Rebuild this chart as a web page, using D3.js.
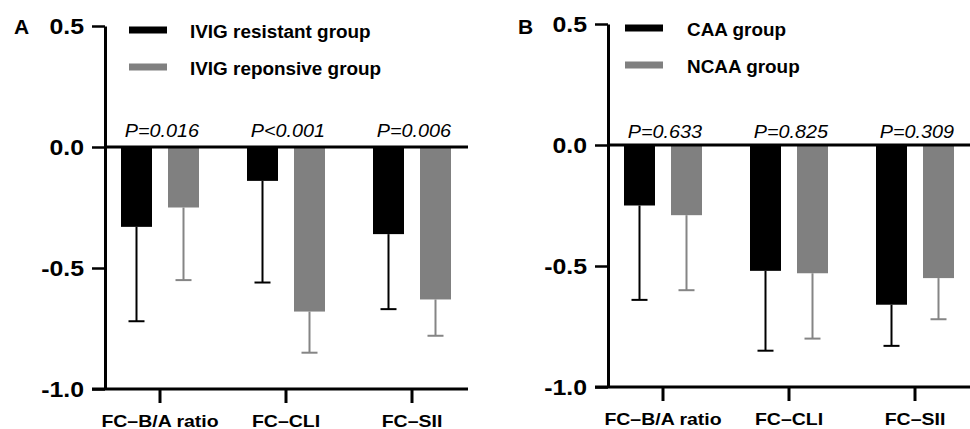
<!DOCTYPE html>
<html>
<head>
<meta charset="utf-8">
<script src="https://cdn.jsdelivr.net/npm/d3@7"></script>
<style>
  html, body { margin: 0; padding: 0; background: #fff; }
  svg { display: block; }
  text { font-family: "Liberation Sans", Arial, sans-serif; }
</style>
</head>
<body>
<svg id="chart" width="970" height="429"></svg>
<script>
// ---------- DATA ----------
const categories = ["FC\u2013B/A ratio", "FC\u2013CLI", "FC\u2013SII"];
const yTicks = [-1.0, -0.5, 0.0, 0.5];

// Panel A
const seriesA = ["IVIG resistant group", "IVIG reponsive group"];
const meanA_resistant = [-0.33, -0.14, -0.36];
const sdA_resistant   = [0.39, 0.42, 0.31];
const meanA_responsive = [-0.25, -0.68, -0.63];
const sdA_responsive   = [0.30, 0.17, 0.15];
const pA = ["P=0.016", "P<0.001", "P=0.006"];

// Panel B
const seriesB = ["CAA group", "NCAA group"];
const meanB_caa  = [-0.25, -0.52, -0.66];
const sdB_caa    = [0.39, 0.33, 0.17];
const meanB_ncaa = [-0.29, -0.53, -0.55];
const sdB_ncaa   = [0.31, 0.27, 0.17];
const pB = ["P=0.633", "P=0.825", "P=0.309"];

// ---------- STYLE / LAYOUT ----------
const colors = ["#000000", "#808080"];
const errColors = ["#000000", "#858585"];

const panels = [
  { letter: "A", letterX: 14, letterY: 34,
    axisX: 105, xRange: [97, 475], xEnd: 468, yRange: [389, 26],
    legendX: 129, legendY: [30, 67], legendTextX: 190, legendTextDy: 7.5,
    pOffset: 10.5,
    series: seriesA,
    means: [meanA_resistant, meanA_responsive],
    sds: [sdA_resistant, sdA_responsive],
    pvals: pA },
  { letter: "B", letterX: 518, letterY: 33.5,
    axisX: 608, xRange: [600, 978], xEnd: 970, yRange: [387, 24],
    legendX: 625, legendY: [28, 65], legendTextX: 687, legendTextDy: 7.5,
    pOffset: 7,
    series: seriesB,
    means: [meanB_caa, meanB_ncaa],
    sds: [sdB_caa, sdB_ncaa],
    pvals: pB }
];

const barWidth = 31, capWidth = 16;

function stretch(sel, f) {
  sel.each(function() {
    const len = this.getComputedTextLength();
    d3.select(this).attr("textLength", len * f).attr("lengthAdjust", "spacingAndGlyphs");
  });
}

const svg = d3.select("#chart");

panels.forEach(p => {
  const g = svg.append("g");
  const y = d3.scaleLinear().domain([-1, 0.5]).range(p.yRange);
  const x = d3.scaleBand().domain(categories).range(p.xRange).padding(0);
  const xs = d3.scaleBand().domain(p.series).range([-47, 47]).padding(0);

  // bars
  p.series.forEach((s, si) => {
    const rows = categories.map((c, i) => ({ c, m: p.means[si][i], sd: p.sds[si][i] }));
    const cx = d => x(d.c) + x.bandwidth() / 2 + xs(s) + xs.bandwidth() / 2;
    // error bars
    const eg = g.append("g").attr("stroke", errColors[si]).attr("stroke-width", 2).attr("fill", "none");
    eg.selectAll("line.v").data(rows).join("line").attr("class", "v")
      .attr("x1", cx).attr("x2", cx)
      .attr("y1", d => y(d.m)).attr("y2", d => y(d.m - d.sd));
    eg.selectAll("line.c").data(rows).join("line").attr("class", "c")
      .attr("x1", d => cx(d) - capWidth / 2).attr("x2", d => cx(d) + capWidth / 2)
      .attr("y1", d => y(d.m - d.sd)).attr("y2", d => y(d.m - d.sd));
    g.append("g").selectAll("rect").data(rows).join("rect")
      .attr("x", d => cx(d) - barWidth / 2)
      .attr("width", barWidth)
      .attr("y", y(0))
      .attr("height", d => y(d.m) - y(0))
      .attr("fill", colors[si]);
  });

  // zero line
  g.append("line")
    .attr("x1", p.axisX).attr("x2", p.xEnd)
    .attr("y1", y(0)).attr("y2", y(0))
    .attr("stroke", "#000").attr("stroke-width", 3);

  // y axis
  const ya = g.append("g").attr("transform", `translate(${p.axisX},0)`)
    .call(d3.axisLeft(y).tickValues(yTicks).tickFormat(d => d.toFixed(1)).tickSize(13).tickPadding(8).tickSizeOuter(0));
  ya.select(".domain").attr("stroke-width", 3);
  ya.selectAll(".tick line").attr("stroke-width", 2.5);
  ya.selectAll(".tick text")
    .attr("font-family", "'Liberation Sans', Arial, sans-serif")
    .attr("font-size", 22).attr("font-weight", "bold").attr("fill", "#000")
    .attr("dy", "0.36em")
    .call(stretch, 1.13);

  // x axis
  const xa = g.append("g").attr("transform", `translate(0,${y(-1)})`)
    .call(d3.axisBottom(x).tickSize(14).tickPadding(12).tickSizeOuter(0));
  xa.select(".domain").remove();
  g.append("line")
    .attr("x1", p.axisX - 13).attr("x2", p.xEnd)
    .attr("y1", y(-1)).attr("y2", y(-1))
    .attr("stroke", "#000").attr("stroke-width", 3);
  xa.selectAll(".tick line").attr("stroke-width", 3);
  xa.selectAll(".tick text")
    .attr("font-family", "'Liberation Sans', Arial, sans-serif")
    .attr("font-size", 16.5).attr("font-weight", "bold").attr("fill", "#000")
    .attr("dy", "0.71em")
    .call(stretch, 1.18);

  // p values
  g.append("g").selectAll("text").data(categories).join("text")
    .attr("x", d => x(d) + x.bandwidth() / 2 + 2)
    .attr("y", y(0) - p.pOffset)
    .attr("text-anchor", "middle")
    .attr("font-size", 17.5).attr("font-style", "italic")
    .text((d, i) => p.pvals[i])
    .call(stretch, 1.13);

  // legend
  const lg = g.append("g");
  p.series.forEach((s, si) => {
    lg.append("rect")
      .attr("x", p.legendX).attr("y", p.legendY[si] - 3.5)
      .attr("width", 38).attr("height", 7)
      .attr("fill", colors[si]);
    lg.append("text")
      .attr("x", p.legendTextX).attr("y", p.legendY[si] + p.legendTextDy)
      .attr("font-size", 18).attr("font-weight", "bold")
      .text(s)
      .call(stretch, 1.05);
  });

  // panel letter
  g.append("text")
    .attr("x", p.letterX).attr("y", p.letterY)
    .attr("font-size", 21).attr("font-weight", "bold")
    .text(p.letter);
});
</script>
</body>
</html>
